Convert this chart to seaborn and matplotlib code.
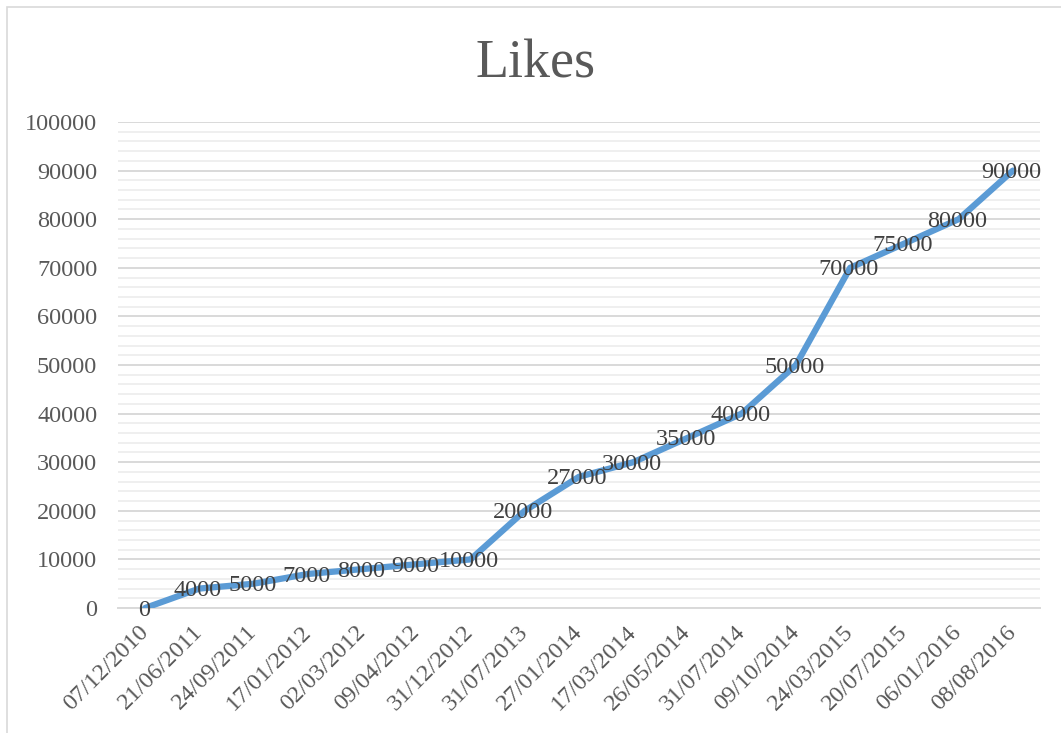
import matplotlib
matplotlib.use("Agg")
import matplotlib.pyplot as plt
import seaborn as sns
import pandas as pd
from matplotlib.patches import Rectangle
from matplotlib.ticker import MultipleLocator

dates = ["07/12/2010", "21/06/2011", "24/09/2011", "17/01/2012", "02/03/2012",
         "09/04/2012", "31/12/2012", "31/07/2013", "27/01/2014", "17/03/2014",
         "26/05/2014", "31/07/2014", "09/10/2014", "24/03/2015", "20/07/2015",
         "06/01/2016", "08/08/2016"]
likes = [0, 4000, 5000, 7000, 8000, 9000, 10000, 20000, 27000, 30000,
         35000, 40000, 50000, 70000, 75000, 80000, 90000]

df = pd.DataFrame({"date": dates, "likes": likes})

sns.set_theme(style="white")
plt.rcParams["font.family"] = ["Liberation Serif", "DejaVu Serif"]

fig = plt.figure(figsize=(10.61, 7.33), dpi=100)
ax = fig.add_axes([118 / 1061, 1 - 608 / 733, (1040 - 118) / 1061, (608 - 122) / 733])

# chart frame
fig.patches.append(Rectangle((7 / 1061, -0.05), 1.1, 1 - 7 / 733 + 0.05,
                             transform=fig.transFigure, fill=False,
                             edgecolor="#D9D9D9", linewidth=1.2, zorder=0))

pos = list(range(len(dates)))
df["pos"] = pos
sns.lineplot(data=df, x="pos", y="likes", ax=ax, color="#5B9BD5",
             linewidth=4.5, sort=False, zorder=3)

ax.set_xlim(-0.5, len(dates) - 0.5)
ax.set_ylim(0, 100000)
ax.yaxis.set_major_locator(MultipleLocator(10000))
ax.yaxis.set_minor_locator(MultipleLocator(2000))
ax.grid(which="minor", axis="y", color="#EFEFEF", linewidth=1.4, zorder=0)
ax.grid(which="major", axis="y", color="#D9D9D9", linewidth=1.4, zorder=1)
ax.grid(which="major", axis="x", visible=False)
ax.set_axisbelow(True)

for s in ["top", "right", "left"]:
    ax.spines[s].set_visible(False)
ax.spines["bottom"].set_color("#D9D9D9")
ax.spines["bottom"].set_linewidth(1.4)

ax.set_xticks(pos)
ax.set_xticklabels(dates, rotation=45, ha="right", va="center",
                   rotation_mode="anchor", fontsize=17.5, color="#595959")
ax.set_yticks(range(0, 100001, 10000))
ax.set_yticklabels([str(v) for v in range(0, 100001, 10000)],
                   fontsize=17.5, color="#595959")
ax.tick_params(axis="y", which="both", length=0, pad=15)
ax.tick_params(axis="x", which="both", length=0, pad=15)
ax.set_xlabel("")
ax.set_ylabel("")

for p, v in zip(pos, likes):
    ax.annotate(str(v), (p, v), xytext=(-1, -1.5), textcoords="offset points",
                ha="center", va="center", fontsize=17.5,
                color="#404040", zorder=4)

fig.text(536 / 1061, 1 - 64 / 733, "Likes", ha="center", va="center",
         fontsize=39, color="#595959")

fig.savefig("out.png", dpi=100, facecolor="white")
